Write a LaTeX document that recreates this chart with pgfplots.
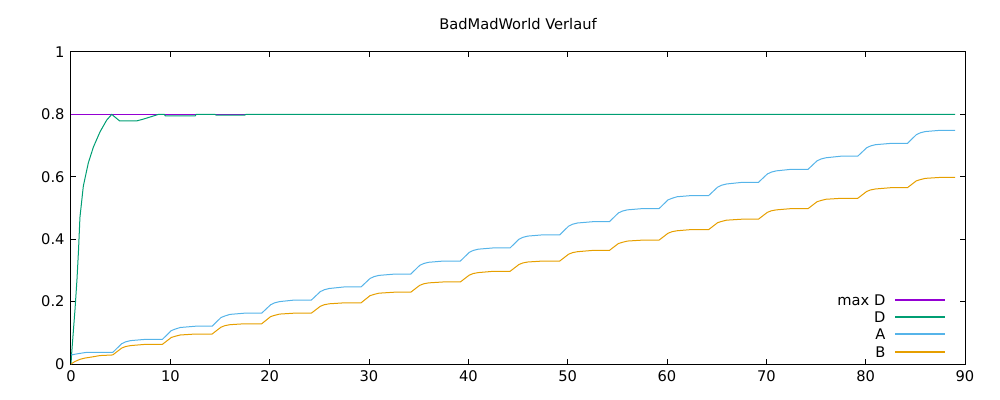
\documentclass[border=0pt]{standalone}
\usepackage{fontspec}
\setmainfont{DejaVu Sans}
\usepackage{pgfplots}
\pgfplotsset{compat=1.18}
\definecolor{gpPurple}{RGB}{148,0,211}
\definecolor{gpGreen}{RGB}{0,158,115}
\definecolor{gpBlue}{RGB}{86,180,233}
\definecolor{gpOrange}{RGB}{230,159,0}
\pgfplotsset{
  gpleg/.style 2 args={legend image code/.code={%
    \node[anchor=east, inner sep=0pt, text height=8pt, text depth=0pt, text=black, font=\fontsize{11pt}{13pt}\selectfont] at (-7.5pt,0pt) {#2};
    \path[fill=#1] (0pt,-0.4pt) rectangle (36.75pt,0.4pt);}},
}
\begin{document}
\fontsize{11pt}{13pt}\selectfont
\begin{tikzpicture}[x=0.75pt,y=0.75pt]
\path[use as bounding box] (-71,-36) rectangle (929,364);
\begin{axis}[
  at={(0,0)}, anchor=south west,
  scale only axis,
  width=670.5pt, height=234pt,
  xmin=0, xmax=90, ymin=0, ymax=1,
  xtick={0,10,...,90},
  ytick={0,0.2,0.4,0.6,0.8,1},
  yticklabels={0,0.2,0.4,0.6,0.8,1},
  tick align=inside,
  major tick length=3.4pt,
  tick style={black, line width=0.75pt},
  axis line style={black, line width=0.75pt},
  /pgf/number format/assume math mode=true,
  tick label style={font=\fontsize{11pt}{13pt}\selectfont},
  yticklabel style={xshift=-1pt},
  xticklabel style={yshift=-1pt},
  legend style={draw=none, fill=none, at={(rel axis cs:0.9798,0.0214)}, anchor=south east,
    nodes={inner sep=0pt}, row sep=4.95pt, column sep=0pt, inner sep=0pt,
    cells={anchor=east}},
  every axis plot/.append style={line width=0.75pt},
  clip=true,
]
\addplot[color=gpPurple, gpleg={gpPurple}{max D}] coordinates {(0,0.8) (89,0.8)};
\addlegendentry{}
\addplot[color=gpGreen, gpleg={gpGreen}{D}] coordinates {(0,0) (0.07,0.035) (0.2,0.09) (0.4,0.173) (0.6,0.27) (0.75,0.36) (0.9,0.47) (1.24,0.57) (1.74,0.644) (2.25,0.695) (2.92,0.744) (3.6,0.782) (4.1,0.8) (4.9,0.779) (6.6,0.779) (7.3,0.785) (8.0,0.792) (8.8,0.8) (9.4,0.8) (9.5,0.795) (12.5,0.795) (12.6,0.8) (14.5,0.8) (14.6,0.798) (17.5,0.798) (17.6,0.8) (89,0.8)};
\addlegendentry{}
\addplot[color=gpBlue, gpleg={gpBlue}{A}] coordinates {
(0,0.029) (0.7,0.033) (1.5,0.037)
(4.2,0.037) (5.1,0.065) (5.5,0.071) (6,0.075) (7.5,0.079)
(9.2,0.079) (10.1,0.107) (10.5,0.112) (11,0.117) (12.5,0.121)
(14.2,0.121) (15.1,0.149) (15.5,0.154) (16,0.159) (17.5,0.163)
(19.2,0.163) (20.1,0.190) (20.5,0.196) (21,0.200) (22.5,0.205)
(24.2,0.205) (25.1,0.232) (25.5,0.238) (26,0.242) (27.5,0.247)
(29.2,0.247) (30.1,0.274) (30.5,0.280) (31,0.284) (32.5,0.288)
(34.2,0.288) (35.1,0.316) (35.5,0.322) (36,0.326) (37.5,0.330)
(39.2,0.330) (40.1,0.358) (40.5,0.364) (41,0.368) (42.5,0.372)
(44.2,0.372) (45.1,0.400) (45.5,0.406) (46,0.410) (47.5,0.414)
(49.2,0.414) (50.1,0.442) (50.5,0.448) (51,0.452) (52.5,0.456)
(54.2,0.456) (55.1,0.484) (55.5,0.490) (56,0.494) (57.5,0.498)
(59.2,0.498) (60.1,0.526) (60.5,0.531) (61,0.536) (62.5,0.540)
(64.2,0.540) (65.1,0.567) (65.5,0.573) (66,0.577) (67.5,0.582)
(69.2,0.582) (70.1,0.609) (70.5,0.615) (71,0.619) (72.5,0.624)
(74.2,0.624) (75.1,0.651) (75.5,0.657) (76,0.661) (77.5,0.666)
(79.2,0.666) (80.1,0.693) (80.5,0.699) (81,0.703) (82.5,0.707)
(84.2,0.707) (85.1,0.735) (85.5,0.741) (86,0.745) (87.5,0.749)
(89,0.749)};
\addlegendentry{}
\addplot[color=gpOrange, gpleg={gpOrange}{B}] coordinates {
(0,0) (0.4,0.008) (0.9,0.015) (1.4,0.019) (2.2,0.023) (2.9,0.027)
(4.2,0.029) (5.1,0.051) (5.5,0.056) (6,0.059) (7.5,0.063)
(9.2,0.063) (10.1,0.085) (10.5,0.089) (11,0.093) (12.5,0.096)
(14.2,0.096) (15.1,0.118) (15.5,0.123) (16,0.126) (17.5,0.129)
(19.2,0.129) (20.1,0.152) (20.5,0.156) (21,0.160) (22.5,0.163)
(24.2,0.163) (25.1,0.185) (25.5,0.190) (26,0.193) (27.5,0.196)
(29.2,0.196) (30.1,0.219) (30.5,0.223) (31,0.227) (32.5,0.230)
(34.2,0.230) (35.1,0.252) (35.5,0.257) (36,0.260) (37.5,0.263)
(39.2,0.263) (40.1,0.285) (40.5,0.290) (41,0.293) (42.5,0.297)
(44.2,0.297) (45.1,0.319) (45.5,0.324) (46,0.327) (47.5,0.330)
(49.2,0.330) (50.1,0.352) (50.5,0.357) (51,0.360) (52.5,0.364)
(54.2,0.364) (55.1,0.386) (55.5,0.390) (56,0.394) (57.5,0.397)
(59.2,0.397) (60.1,0.419) (60.5,0.424) (61,0.427) (62.5,0.431)
(64.2,0.431) (65.1,0.453) (65.5,0.457) (66,0.461) (67.5,0.464)
(69.2,0.464) (70.1,0.486) (70.5,0.491) (71,0.494) (72.5,0.498)
(74.2,0.498) (75.1,0.520) (75.5,0.524) (76,0.528) (77.5,0.531)
(79.2,0.531) (80.1,0.553) (80.5,0.558) (81,0.561) (82.5,0.565)
(84.2,0.565) (85.1,0.587) (85.5,0.591) (86,0.595) (87.5,0.598)
(89,0.598)};
\addlegendentry{}
\end{axis}
\node[font=\fontsize{11pt}{13pt}\selectfont] at (447,340) {BadMadWorld Verlauf};
\end{tikzpicture}
\end{document}
